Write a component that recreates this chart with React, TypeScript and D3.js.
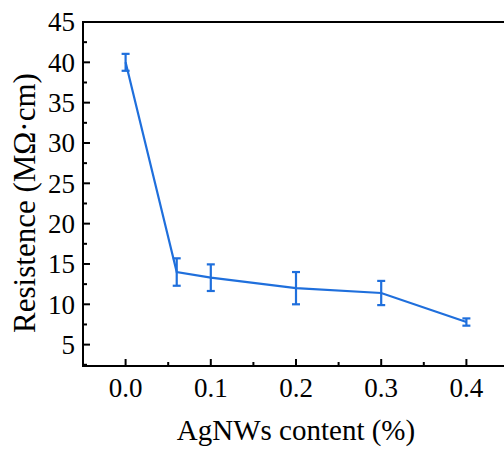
import { useEffect, useRef } from "react";
import * as d3 from "d3";

// AgNWs content (%)
const contents = [0.0, 0.06, 0.1, 0.2, 0.3, 0.4];
// Resistence (MΩ·cm)
const resistance = [40.0, 14.0, 13.3, 12.0, 11.4, 7.8];
const errors = [1.05, 1.7, 1.65, 2.0, 1.5, 0.45];

const xTicks = [0.0, 0.1, 0.2, 0.3, 0.4];
const yTicks = [5, 10, 15, 20, 25, 30, 35, 40, 45];

export default function App() {
  const ref = useRef<SVGSVGElement>(null);

  useEffect(() => {
    const svgEl = ref.current;
    if (!svgEl) return;
    const svg = d3.select(svgEl);
    svg.selectAll("*").remove();

    const W = 504, H = 456;
    const margin = { top: 22, right: -5, bottom: 90, left: 83 };
    const width = W - margin.left - margin.right;
    const height = H - margin.top - margin.bottom;
    const blue = "#1f6fdc";
    const font =
      "'Liberation Serif', 'DejaVu Serif', 'Noto Serif', 'Times New Roman', Times, serif";

    const x = d3.scaleLinear().domain([-0.05, 0.45]).range([0, width]);
    const y = d3.scaleLinear().domain([2.35, 45]).range([height, 0]);

    const g = svg.append("g")
      .attr("transform", `translate(${margin.left},${margin.top})`)
      .style("font-family", font);

    // minor ticks
    const xMinor = d3.range(0, 9).map(i => -0.05 + i * 0.1);
    const yMinor = d3.range(0, 9).map(i => 2.5 + i * 5).filter(v => v >= 2.35);

    g.selectAll(".xminor").data(xMinor).enter().append("line")
      .attr("x1", d => x(d)).attr("x2", d => x(d))
      .attr("y1", height).attr("y2", height - 4)
      .attr("stroke", "#000").attr("stroke-width", 2);
    g.selectAll(".xmajor").data(xTicks).enter().append("line")
      .attr("x1", d => x(d)).attr("x2", d => x(d))
      .attr("y1", height).attr("y2", height - 7)
      .attr("stroke", "#000").attr("stroke-width", 2);
    g.selectAll(".yminor").data(yMinor).enter().append("line")
      .attr("x1", 0).attr("x2", 4)
      .attr("y1", d => y(d)).attr("y2", d => y(d))
      .attr("stroke", "#000").attr("stroke-width", 2);
    g.selectAll(".ymajor").data(yTicks).enter().append("line")
      .attr("x1", 0).attr("x2", 7)
      .attr("y1", d => y(d)).attr("y2", d => y(d))
      .attr("stroke", "#000").attr("stroke-width", 2);

    // frame
    g.append("rect")
      .attr("x", 0).attr("y", 0)
      .attr("width", width).attr("height", height)
      .attr("fill", "none").attr("stroke", "#000").attr("stroke-width", 2);

    // tick labels
    g.selectAll(".xlab").data(xTicks).enter().append("text")
      .attr("x", d => x(d)).attr("y", height + 31)
      .attr("text-anchor", "middle")
      .style("font-size", "27px")
      .text(d => d3.format(".1f")(d));
    g.selectAll(".ylab").data(yTicks).enter().append("text")
      .attr("x", -8).attr("y", d => y(d)).attr("dy", "0.35em")
      .attr("text-anchor", "end")
      .style("font-size", "27px")
      .text(d => d);

    // axis titles
    g.append("text")
      .attr("x", width / 2).attr("y", height + 74)
      .attr("text-anchor", "middle")
      .style("font-size", "29px")
      .text("AgNWs content (%)");
    g.append("text")
      .attr("transform", `translate(${35 - margin.left},${(height / 2) + 9}) rotate(-90)`)
      .attr("text-anchor", "middle")
      .style("font-size", "31px")
      .text("Resistence (MΩ·cm)");

    const pts = contents.map((c, i) => ({ c, r: resistance[i], e: errors[i] }));

    // line
    const line = d3.line<{ c: number; r: number }>().x(d => x(d.c)).y(d => y(d.r));
    g.append("path").datum(pts)
      .attr("d", line)
      .attr("fill", "none").attr("stroke", blue).attr("stroke-width", 2.2);

    // error bars
    const eb = g.selectAll(".eb").data(pts).enter().append("g");
    eb.append("line")
      .attr("x1", d => x(d.c)).attr("x2", d => x(d.c))
      .attr("y1", d => y(d.r - d.e)).attr("y2", d => y(d.r + d.e))
      .attr("stroke", blue).attr("stroke-width", 2.2);
    eb.append("line")
      .attr("x1", d => x(d.c) - 4).attr("x2", d => x(d.c) + 4)
      .attr("y1", d => y(d.r + d.e)).attr("y2", d => y(d.r + d.e))
      .attr("stroke", blue).attr("stroke-width", 2.2);
    eb.append("line")
      .attr("x1", d => x(d.c) - 4).attr("x2", d => x(d.c) + 4)
      .attr("y1", d => y(d.r - d.e)).attr("y2", d => y(d.r - d.e))
      .attr("stroke", blue).attr("stroke-width", 2.2);
  }, []);

  return (
    <svg
      ref={ref}
      width={504}
      height={456}
      style={{ position: "absolute", left: 0, top: 0, background: "#fff" }}
    />
  );
}
